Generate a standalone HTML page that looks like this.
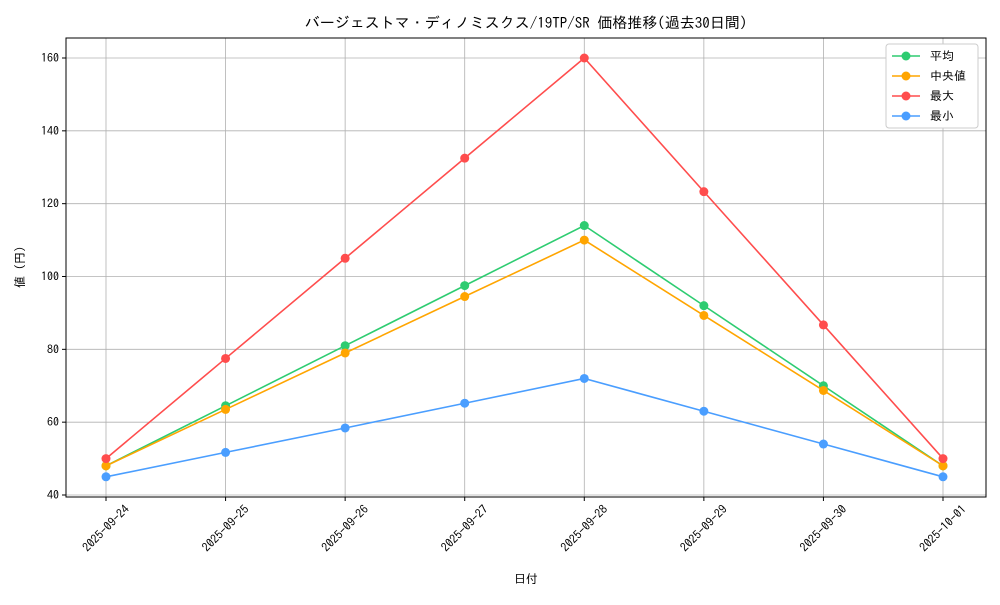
<!DOCTYPE html>
<html><head><meta charset="utf-8"><style>
body{margin:0;background:#fff;}
svg text{font-family:"IPAGothic","Noto Sans CJK JP",monospace;fill:#000;}
</style></head><body>
<svg id="chart" width="1000" height="600" xmlns="http://www.w3.org/2000/svg">
<rect width="1000" height="600" fill="#fff"/>
<text x="526" y="28" font-size="15" text-anchor="middle">バージェストマ・ディノミスクス/19TP/SR 価格推移(過去30日間)</text>
<g id="grid"></g><g id="axes"></g><g id="series"></g>
<text x="526" y="583" font-size="12" text-anchor="middle">日付</text>
<text transform="translate(24,267) rotate(-90)" font-size="12" text-anchor="middle">値 (円)</text>
<g id="legend"></g>
</svg>
<script>
const categories=["2025-09-24","2025-09-25","2025-09-26","2025-09-27","2025-09-28","2025-09-29","2025-09-30","2025-10-01"];
const avgValues=[48,64.5,81,97.5,114,92,70,48];
const medianValues=[48,63.5,79,94.5,110,89.3,68.7,48];
const maxValues=[50,77.5,105,132.5,160,123.3,86.7,50];
const minValues=[45,51.7,58.4,65.2,72,63,54,45];
const yTicks=[40,60,80,100,120,140,160];
const seriesNames=["平均","中央値","最大","最小"];
const NS="http://www.w3.org/2000/svg";
const L=66,R=986,T=38,B=497;
const x=i=>106+i*(943-106)/(categories.length-1);
const y=v=>495-(v-40)*(495-58)/120;
function el(t,a,p){const e=document.createElementNS(NS,t);for(const k in a)e.setAttribute(k,a[k]);p.appendChild(e);return e;}
const grid=document.getElementById('grid'),axes=document.getElementById('axes'),ser=document.getElementById('series'),leg=document.getElementById('legend');
categories.forEach((c,i)=>{
 const g=el('line',{x1:x(i),x2:x(i),y1:T,y2:B,stroke:'#b0b0b0','stroke-width':0.8},grid);
 
 
 el('line',{x1:x(i),x2:x(i),y1:B,y2:B+4,stroke:'#000'},axes);
 const t=el('text',{x:0,y:0,'font-size':12,'text-anchor':'end',transform:`translate(${x(i)+24},${B+13}) rotate(-45)`},axes);
 t.textContent=c;
 
 
});
yTicks.forEach(v=>{
 const g=el('line',{x1:L,x2:R,y1:y(v),y2:y(v),stroke:'#b0b0b0','stroke-width':0.8},grid);
 
 
 el('line',{x1:L-4,x2:L,y1:y(v),y2:y(v),stroke:'#000'},axes);
 const t=el('text',{x:L-7,y:y(v)+4,'font-size':12,'text-anchor':'end'},axes);
 t.textContent=v;
 
 
});
const frame=el('rect',{x:L,y:T,width:R-L,height:B-T,fill:'none',stroke:'#000','stroke-width':1},axes);


const all=[avgValues,medianValues,maxValues,minValues];
const colors=["#2ecc71","#ffa500","#ff4d4d","#4a9eff"];
const drawOrder=[0,1,2,3];
drawOrder.forEach(s=>{
 const g=el('g',{},ser);
 
 
 el('polyline',{points:all[s].map((v,i)=>x(i)+','+y(v)).join(' '),fill:'none',stroke:colors[s],'stroke-width':1.6},g);
 all[s].forEach((v,i)=>{
  const c=el('circle',{cx:x(i),cy:y(v),r:4.5,fill:colors[s]},g);
  
  
 });
});
el('rect',{x:886,y:44,width:92,height:84,fill:'#fff',stroke:'#ccc',rx:3},leg);
seriesNames.forEach((n,k)=>{
 const yy=56+k*20;
 const g=el('g',{},leg);
 
 
 el('line',{x1:892,x2:920,y1:yy,y2:yy,stroke:colors[k],'stroke-width':1.6},g);
 el('circle',{cx:906,cy:yy,r:4.5,fill:colors[k]},g);
 const t=el('text',{x:930,y:yy+4,'font-size':12},g);
 t.textContent=(k==1?' ':'')+n;
});
</script>
</body></html>
